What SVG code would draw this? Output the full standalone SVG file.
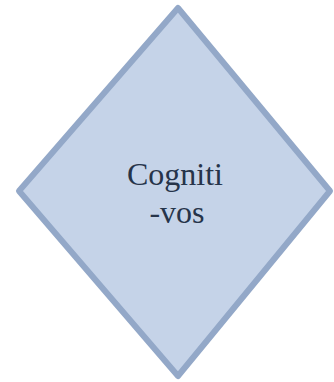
<svg xmlns="http://www.w3.org/2000/svg" width="334" height="382" viewBox="0 0 334 382">
<style>
.shape{fill:#c5d3e8;stroke:#93a8c8;stroke-width:6;stroke-linejoin:round}
.lbl{font-family:'Liberation Serif','Times New Roman',Times,serif;font-size:32px;fill:#26344a;text-anchor:middle}
</style>
<rect width="334" height="382" fill="#ffffff"/>
<g id="connectors"></g>
<g id="node-cognitivos">
<polygon class="shape" points="178,8 330,191 178,376 19,191"/>
<text class="lbl" x="175" y="185">Cogniti</text>
<text class="lbl" x="177" y="223">-vos</text>
</g>
</svg>
